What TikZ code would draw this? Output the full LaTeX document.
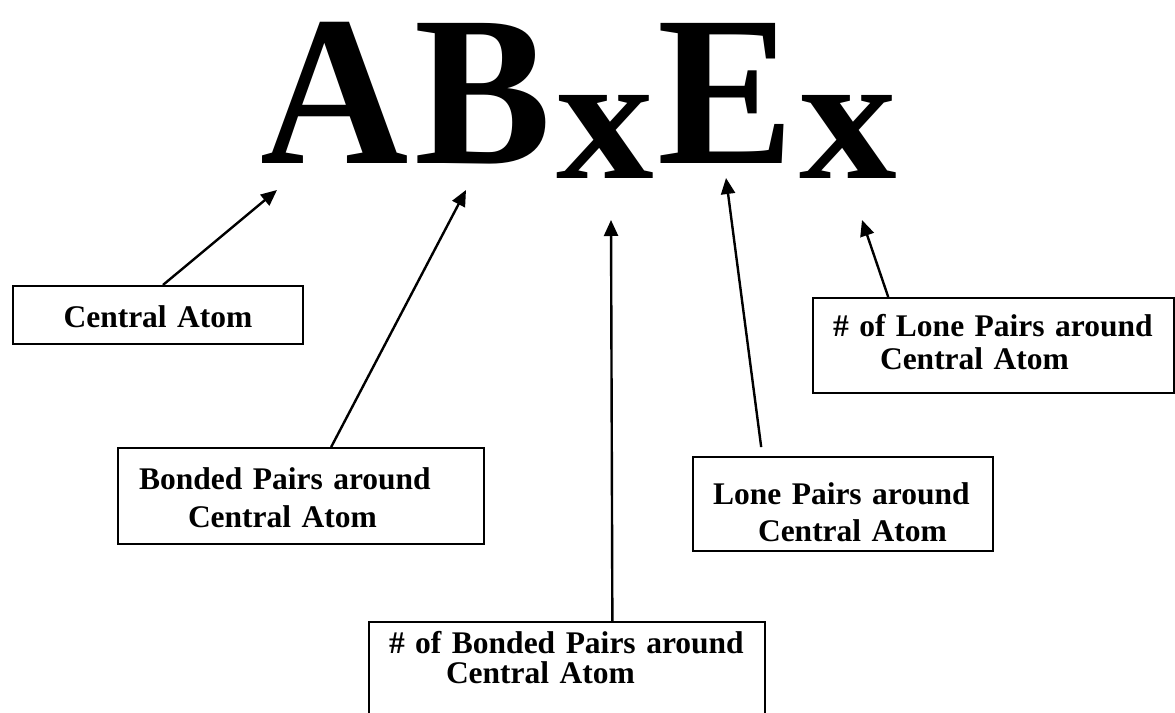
\documentclass[tikz,border=0pt]{standalone}
\usepackage{fontspec}
\setmainfont{Liberation Serif}
\usetikzlibrary{arrows.meta,calc}
\begin{document}
\begin{tikzpicture}[x=1pt,y=-1pt,
  box/.style={draw, line width=2pt, anchor=north west, inner ysep=0pt,
    align=left, font=\bfseries\fontsize{31.5}{30}\selectfont},
  bigcap/.style={inner sep=0pt, anchor=base, font=\bfseries\fontsize{214}{214}\selectfont},
  bigsub/.style={inner sep=0pt, anchor=base, font=\bfseries\fontsize{181}{181}\selectfont},
  conn/.style={line width=2.4pt, -{Triangle[length=16pt,width=14pt]}}]
\useasboundingbox (0,0) rectangle (1175,712);
\clip (0,0) rectangle (1175,712);

% formula letters
\node[bigcap] (lA) at (334.5,163) {\scalebox{0.96}[1]{A}};
\node[bigcap] (lB) at (483,163) {\scalebox{0.96}[1]{B}};
\node[bigsub] (lx1) at (605.5,178) {\scalebox{1.08}[1]{x}};
\node[bigcap] (lE) at (726.5,163) {\scalebox{0.96}[1]{E}};
\node[bigsub] (lx2) at (848.5,178) {\scalebox{1.08}[1]{x}};

% boxes
\node[box, inner xsep=0pt, text width=290pt, align=center] (cabox) at (12,285)
  {\rule{0pt}{41pt}Central Atom\rule[-17pt]{0pt}{17pt}};
\node[box, inner xsep=21pt, text width=324pt] (bpbox) at (117,447)
  {\rule{0pt}{41pt}\mbox{Bonded Pairs around}\\[8pt]\hspace*{49pt}\mbox{Central Atom}\rule[-17pt]{0pt}{17pt}};
\node[box, inner xsep=20pt, text width=356pt] (nbbox) at (368,621)
  {\rule{0pt}{31pt}\mbox{\# of Bonded Pairs around}\\\hspace*{57pt}\mbox{Central Atom}\rule[-45pt]{0pt}{45pt}};
\node[box, inner xsep=20pt, text width=260pt] (lpbox) at (692,456)
  {\rule{0pt}{47pt}\mbox{Lone Pairs around}\\[7pt]\hspace*{45pt}\mbox{Central Atom}\rule[-10pt]{0pt}{10pt}};
\node[box, inner xsep=20pt, text width=321pt] (nlbox) at (812,297)
  {\rule{0pt}{38pt}\mbox{\# of Lone Pairs around}\\[3pt]\hspace*{47pt}\mbox{Central Atom}\rule[-24pt]{0pt}{24pt}};

% arrow tips
\coordinate (tA) at (277,190);
\coordinate (tB) at (466,190);
\coordinate (tX1) at (611,220);
\coordinate (tE) at (726,178);
\coordinate (tX2) at (862,220);

% connectors
\draw[conn] ($(cabox.north west)!0.517!(cabox.north east)$) -- (tA);
\draw[conn] ($(bpbox.north west)!0.582!(bpbox.north east)$) -- (tB);
\draw[conn] ($(nbbox.north west)!0.614!(nbbox.north east)$) -- (tX1);
\draw[conn, shorten <=9pt] ($(lpbox.north west)!0.233!(lpbox.north east)$) -- (tE);
\draw[conn] ($(nlbox.north west)!0.21!(nlbox.north east)$) -- (tX2);
\end{tikzpicture}
\end{document}
